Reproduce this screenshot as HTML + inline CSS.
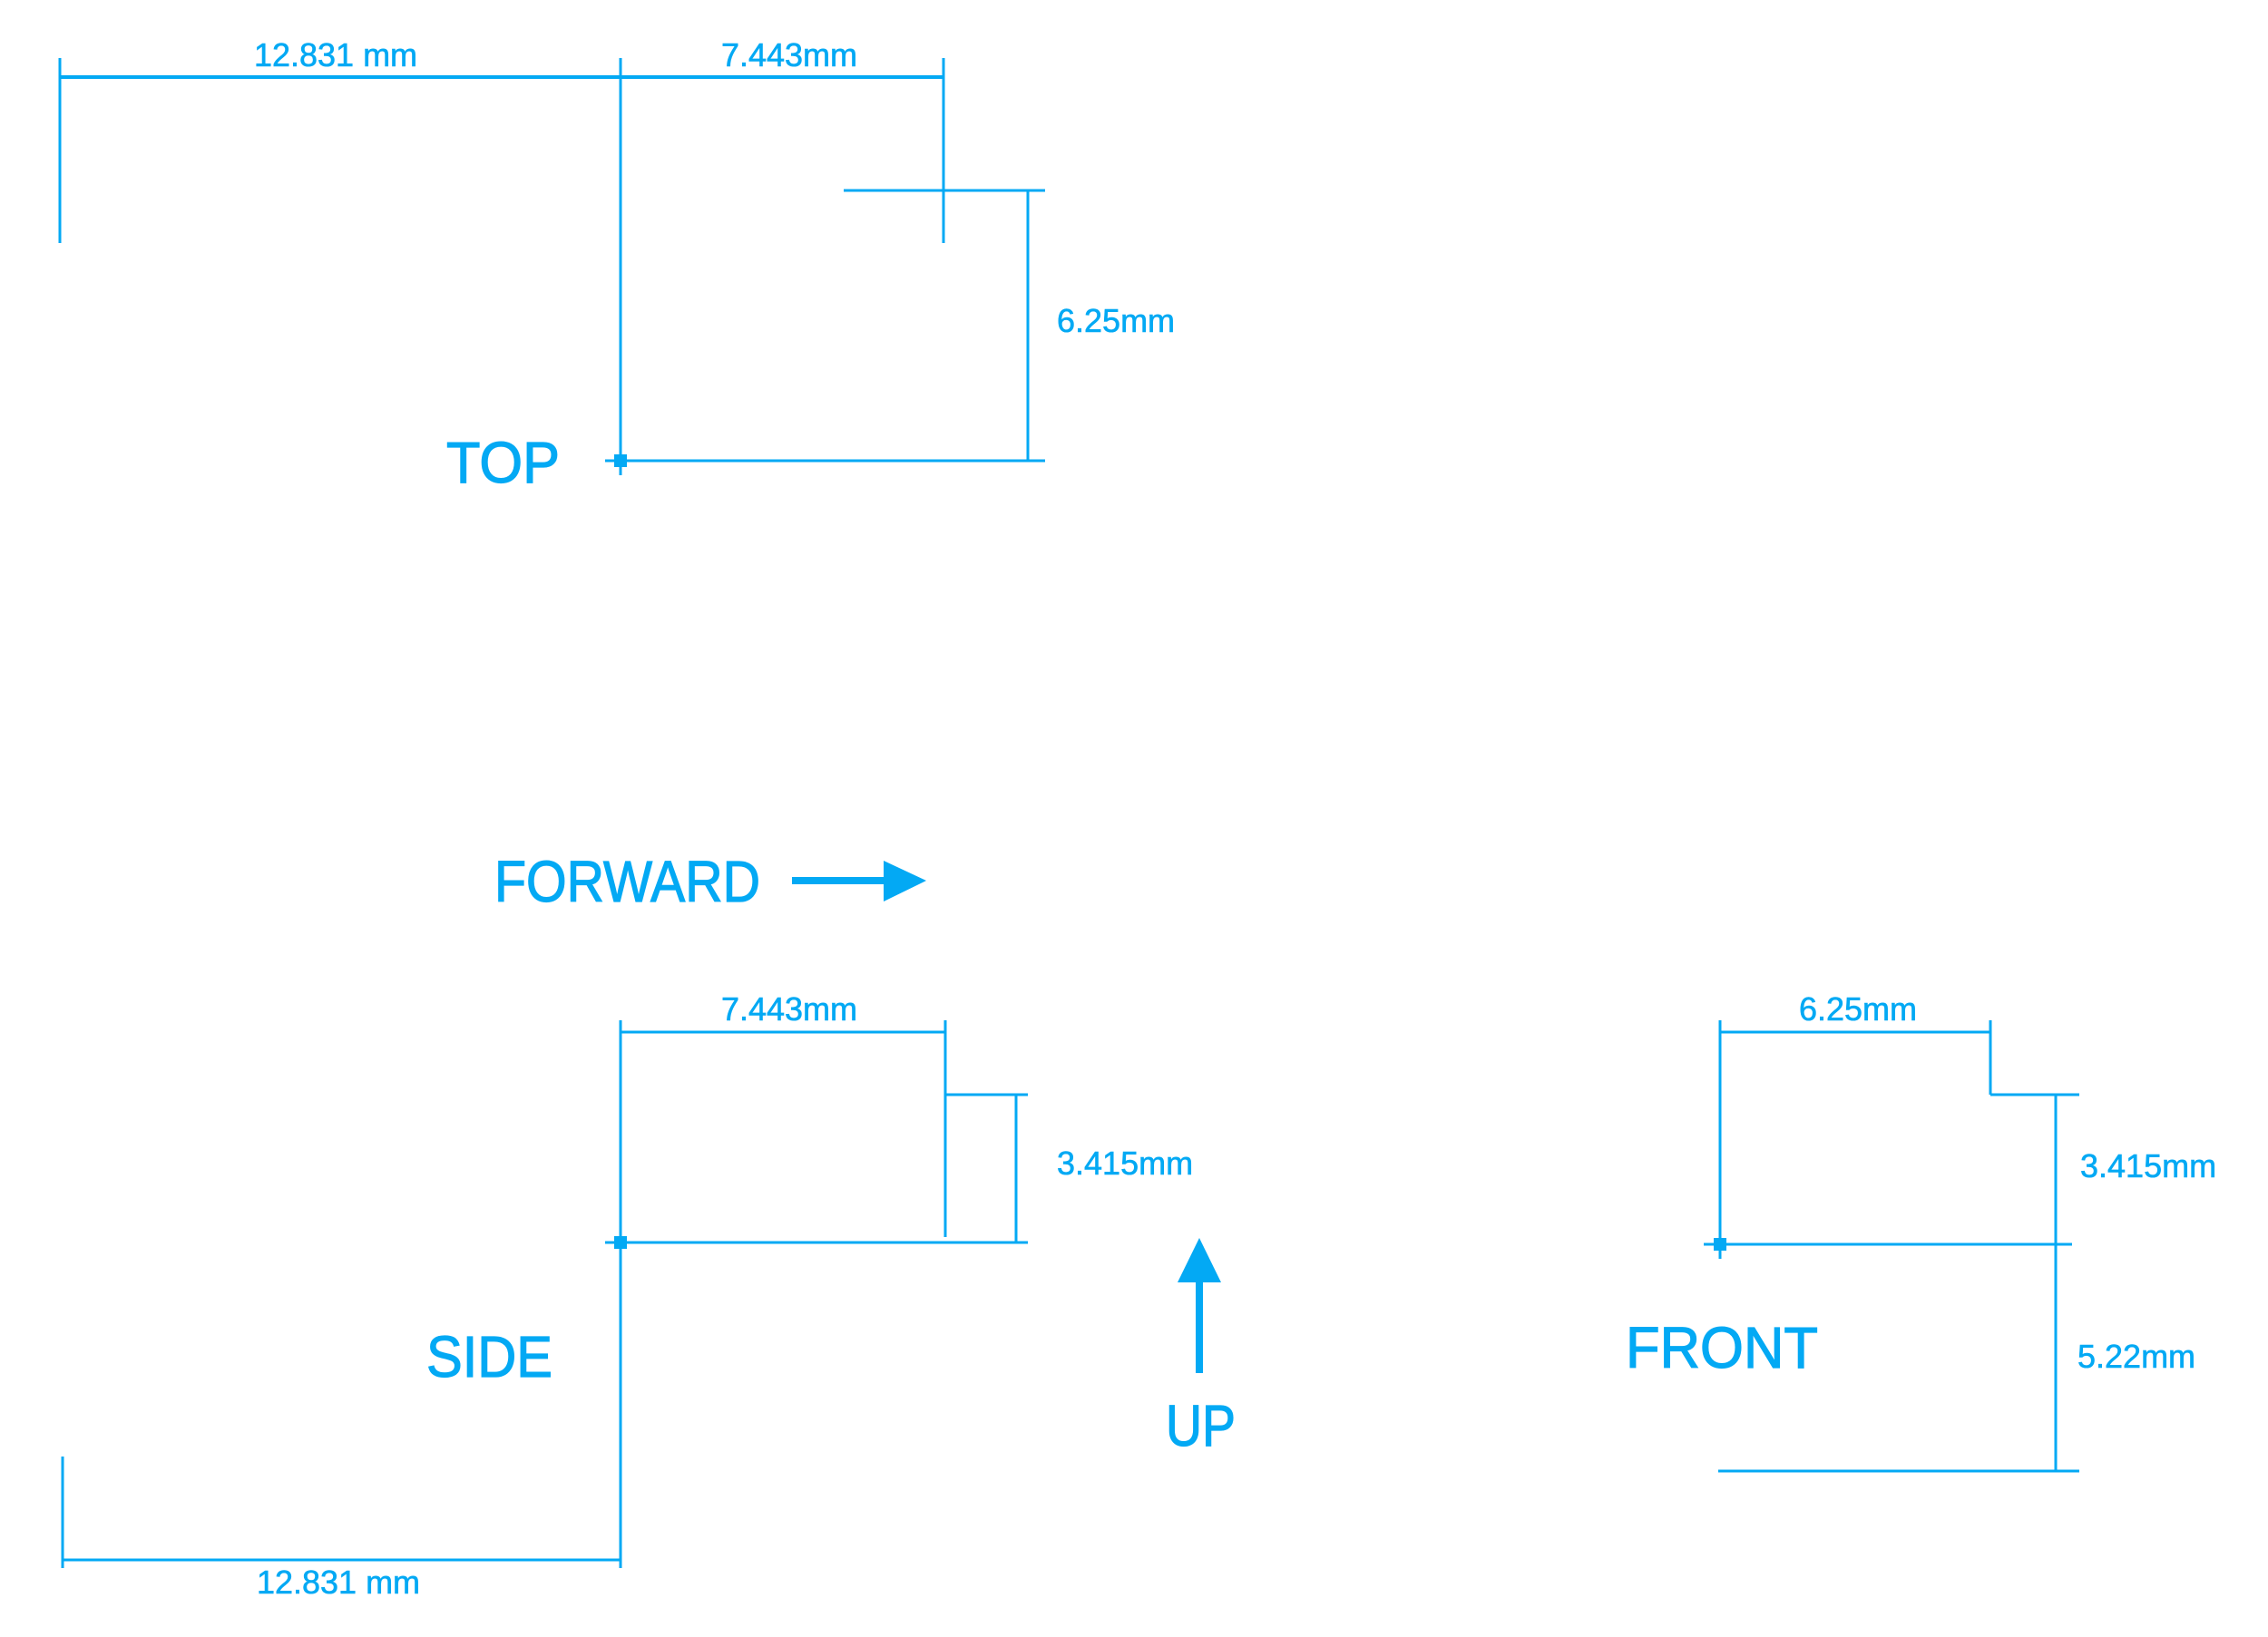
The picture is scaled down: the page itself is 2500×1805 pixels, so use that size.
<!DOCTYPE html>
<html><head><meta charset="utf-8"><style>
html,body{margin:0;padding:0;background:#fff;}
svg{display:block;}
text{font-family:"Liberation Sans",sans-serif;fill:#03A9F4;}
.d{font-size:36px;stroke:#03A9F4;stroke-width:0.6px;}
.b{font-size:64px;stroke:#03A9F4;stroke-width:1.2px;}
</style></head><body>
<svg width="2500" height="1805" viewBox="0 0 2500 1805" xmlns="http://www.w3.org/2000/svg">
<g stroke="#03A9F4" stroke-width="3" fill="none">
<line x1="66" y1="64" x2="66" y2="268"/>
<line x1="66" y1="85" x2="1040" y2="85" stroke-width="4"/>
<line x1="684" y1="64" x2="684" y2="524"/>
<line x1="1040" y1="64" x2="1040" y2="268"/>
<line x1="930" y1="210" x2="1152" y2="210"/>
<line x1="1133" y1="210" x2="1133" y2="508"/>
<line x1="667" y1="508" x2="1152" y2="508"/>
<line x1="684" y1="1125" x2="684" y2="1729"/>
<line x1="684" y1="1138" x2="1042" y2="1138"/>
<line x1="1042" y1="1125" x2="1042" y2="1364"/>
<line x1="1042" y1="1207" x2="1133" y2="1207"/>
<line x1="1120" y1="1207" x2="1120" y2="1370"/>
<line x1="667" y1="1370" x2="1133" y2="1370"/>
<line x1="69" y1="1606" x2="69" y2="1729"/>
<line x1="69" y1="1720" x2="684" y2="1720"/>
<line x1="1896" y1="1125" x2="1896" y2="1388"/>
<line x1="1896" y1="1138" x2="2194" y2="1138"/>
<line x1="2194" y1="1125" x2="2194" y2="1207"/>
<line x1="2194" y1="1207" x2="2292" y2="1207"/>
<line x1="2266" y1="1207" x2="2266" y2="1622"/>
<line x1="1878" y1="1372" x2="2284" y2="1372"/>
<line x1="1894" y1="1622" x2="2292" y2="1622"/>
<line x1="873" y1="971" x2="980" y2="971" stroke-width="8"/>
<line x1="1322" y1="1410" x2="1322" y2="1514" stroke-width="8"/>
</g>
<g fill="#03A9F4">
<rect x="677" y="501" width="14" height="14"/>
<rect x="677" y="1363" width="14" height="14"/>
<rect x="1889" y="1365" width="14" height="14"/>
<polygon points="974,949 1021,971 974,994"/>
<polygon points="1322,1365 1346,1414 1298,1414"/>
</g>
<text class="d" x="370" y="73" text-anchor="middle">12.831 mm</text>
<text class="d" x="870" y="73" text-anchor="middle">7.443mm</text>
<text class="d" x="1165" y="366">6.25mm</text>
<text class="b" x="492" y="532" textLength="125" lengthAdjust="spacingAndGlyphs">TOP</text>
<text class="b" x="545" y="994" textLength="293" lengthAdjust="spacingAndGlyphs">FORWARD</text>
<text class="d" x="870" y="1125" text-anchor="middle">7.443mm</text>
<text class="d" x="1165" y="1295">3.415mm</text>
<text class="b" x="1285" y="1594" textLength="77" lengthAdjust="spacingAndGlyphs">UP</text>
<text class="b" x="470" y="1518" textLength="139" lengthAdjust="spacingAndGlyphs">SIDE</text>
<text class="d" x="373" y="1757" text-anchor="middle">12.831 mm</text>
<text class="d" x="2048" y="1125" text-anchor="middle">6.25mm</text>
<text class="d" x="2293" y="1298">3.415mm</text>
<text class="d" x="2290" y="1508">5.22mm</text>
<text class="b" x="1792" y="1508" textLength="212" lengthAdjust="spacingAndGlyphs">FRONT</text>
</svg>
</body></html>
